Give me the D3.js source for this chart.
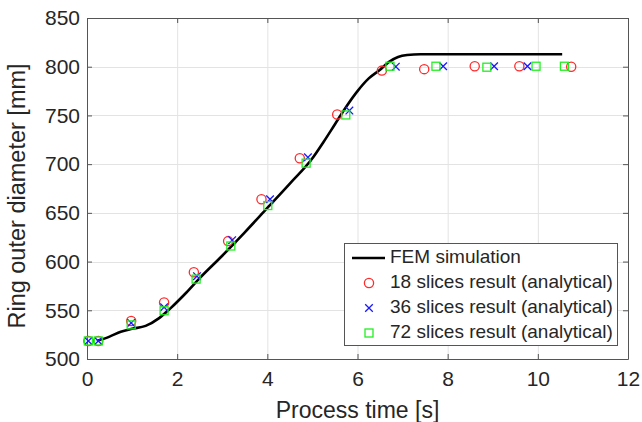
<!DOCTYPE html>
<html>
<head>
<meta charset="utf-8">
<script src="https://cdn.jsdelivr.net/npm/d3@7"></script>
<style>
  body { margin: 0; background: #fff; }
  text { font-family: "Liberation Sans", Arial, sans-serif; fill: #262626; }
</style>
</head>
<body>
<div id="chart"></div>
<script>
// FEM simulation curve
const femTime = [0.22, 0.5, 0.75, 1.0, 1.3, 1.6, 1.85, 2.2, 2.5, 3.0, 3.5, 4.0, 4.5, 5.0, 5.25, 5.5, 5.75, 6.0, 6.25, 6.5, 6.7, 6.9, 7.1, 7.4, 8.0, 9.0, 10.0, 10.54];
const femDiam = [518.5, 523, 528, 531, 534, 542, 552, 568, 583, 606, 630, 655, 680, 706, 723, 741, 759, 775, 788, 797, 805, 810, 812, 812.8, 812.8, 812.8, 812.8, 812.8];

// analytical results
const s18Time = [0.03, 0.25, 0.98, 1.71, 2.37, 3.13, 3.87, 4.72, 5.55, 6.54, 7.48, 8.6, 9.59, 10.74];
const s18Diam = [518.5, 518.5, 539, 558, 589, 621, 664, 706, 751, 796, 797.5, 800.5, 800.5, 800];
const s36Time = [0.03, 0.25, 0.98, 1.71, 2.44, 3.22, 4.06, 4.9, 5.82, 6.85, 7.9, 9.03, 9.77];
const s36Diam = [518.5, 518.5, 537, 553, 585, 622, 664, 707, 755, 800, 800.5, 800.5, 800.5];
const s72Time = [0.03, 0.25, 0.98, 1.71, 2.42, 3.19, 4.01, 4.86, 5.74, 6.72, 7.74, 8.87, 9.96, 10.59];
const s72Diam = [518.5, 518.5, 535, 549.5, 582, 616, 657.5, 701, 750.5, 800.5, 800.5, 799.5, 800.5, 800.5];

const xTicks = [0, 2, 4, 6, 8, 10, 12];
const yTicks = [500, 550, 600, 650, 700, 750, 800, 850];
const legendLabels = ["FEM simulation", "18 slices result (analytical)", "36 slices result (analytical)", "72 slices result (analytical)"];

const width = 642, height = 422;
const margin = { top: 18, right: 14, bottom: 63, left: 87 };
const innerW = width - margin.left - margin.right;
const innerH = height - margin.top - margin.bottom;

const svg = d3.select("#chart").append("svg")
  .attr("width", width)
  .attr("height", height);

const x = d3.scaleLinear().domain([0, 12]).range([margin.left, margin.left + innerW]);
const y = d3.scaleLinear().domain([500, 850]).range([margin.top + innerH, margin.top]);

// grid
const grid = svg.append("g").attr("stroke", "#e3e3e3").attr("stroke-width", 1);
grid.selectAll(".gx").data(xTicks.slice(1, -1)).join("line")
  .attr("x1", d => x(d) + 0.5).attr("x2", d => x(d) + 0.5)
  .attr("y1", y(850)).attr("y2", y(500));
grid.selectAll(".gy").data(yTicks.slice(1, -1)).join("line")
  .attr("y1", d => Math.round(y(d)) + 0.5).attr("y2", d => Math.round(y(d)) + 0.5)
  .attr("x1", x(0)).attr("x2", x(12));

// axes with inward ticks, box
const axisColor = "#555";
const xAxis = svg.append("g")
  .attr("transform", `translate(0,${y(500)})`)
  .call(d3.axisBottom(x).tickValues(xTicks).tickSizeInner(-5).tickSizeOuter(0).tickPadding(12));
const xAxisTop = svg.append("g")
  .attr("transform", `translate(0,${y(850)})`)
  .call(d3.axisTop(x).tickValues(xTicks).tickSizeInner(-5).tickSizeOuter(0).tickFormat(""));
const yAxis = svg.append("g")
  .attr("transform", `translate(${x(0)},0)`)
  .call(d3.axisLeft(y).tickValues(yTicks).tickSizeInner(-5).tickSizeOuter(0).tickPadding(7));
const yAxisRight = svg.append("g")
  .attr("transform", `translate(${x(12)},0)`)
  .call(d3.axisRight(y).tickValues(yTicks).tickSizeInner(-5).tickSizeOuter(0).tickFormat(""));

[xAxis, xAxisTop, yAxis, yAxisRight].forEach(g => {
  g.selectAll("path, line").attr("stroke", axisColor);
  g.selectAll("text").attr("font-size", 21).attr("fill", "#262626")
    .attr("font-family", "Liberation Sans, Arial, sans-serif");
});

// axis titles
svg.append("text")
  .attr("x", x(6)).attr("y", 412)
  .attr("text-anchor", "middle")
  .attr("dominant-baseline", "middle")
  .attr("font-size", 23)
  .text("Process time [s]");
svg.append("text")
  .attr("transform", `translate(19,196) rotate(-90)`)
  .attr("text-anchor", "middle")
  .attr("dominant-baseline", "middle")
  .attr("font-size", 23.5)
  .text("Ring outer diameter [mm]");

// FEM line
const line = d3.line().x(d => x(d[0])).y(d => y(d[1])).curve(d3.curveMonotoneX);
svg.append("path")
  .datum(d3.zip(femTime, femDiam))
  .attr("d", line)
  .attr("fill", "none")
  .attr("stroke", "#000")
  .attr("stroke-width", 2.6);

// markers
const drawCircle = (g, cx, cy) => g.append("circle").attr("cx", cx).attr("cy", cy).attr("r", 4.6)
  .attr("fill", "none").attr("stroke", "#ff2a2a").attr("stroke-width", 1.3);
const drawCross = (g, cx, cy) => g.append("path")
  .attr("d", `M${cx - 3.8},${cy - 3.8}L${cx + 3.8},${cy + 3.8}M${cx - 3.8},${cy + 3.8}L${cx + 3.8},${cy - 3.8}`)
  .attr("stroke", "#1a1aff").attr("stroke-width", 1.3).attr("fill", "none");
const drawSquare = (g, cx, cy) => g.append("rect").attr("x", cx - 4).attr("y", cy - 4)
  .attr("width", 8).attr("height", 8)
  .attr("fill", "none").attr("stroke", "#22ee22").attr("stroke-width", 1.3);

const marks = svg.append("g");
d3.zip(s18Time, s18Diam).forEach(d => drawCircle(marks, x(d[0]), y(d[1])));
d3.zip(s36Time, s36Diam).forEach(d => drawCross(marks, x(d[0]), y(d[1])));
d3.zip(s72Time, s72Diam).forEach(d => drawSquare(marks, x(d[0]), y(d[1])));

// legend
const lg = svg.append("g").attr("transform", "translate(344,243)");
lg.append("rect").attr("x", 0.5).attr("y", 0.5).attr("width", 273).attr("height", 102)
  .attr("fill", "#fff").attr("stroke", axisColor);
const rowY = i => 15 + i * 25;
lg.append("line").attr("x1", 8).attr("x2", 41).attr("y1", rowY(0)).attr("y2", rowY(0))
  .attr("stroke", "#000").attr("stroke-width", 2.6);
drawCircle(lg, 25, rowY(1));
drawCross(lg, 25, rowY(2));
drawSquare(lg, 25, rowY(3));
lg.selectAll(".lt").data(legendLabels).join("text")
  .attr("x", 46).attr("y", (d, i) => rowY(i))
  .attr("dominant-baseline", "middle")
  .attr("font-size", 19)
  .text(d => d);
</script>
</body>
</html>
